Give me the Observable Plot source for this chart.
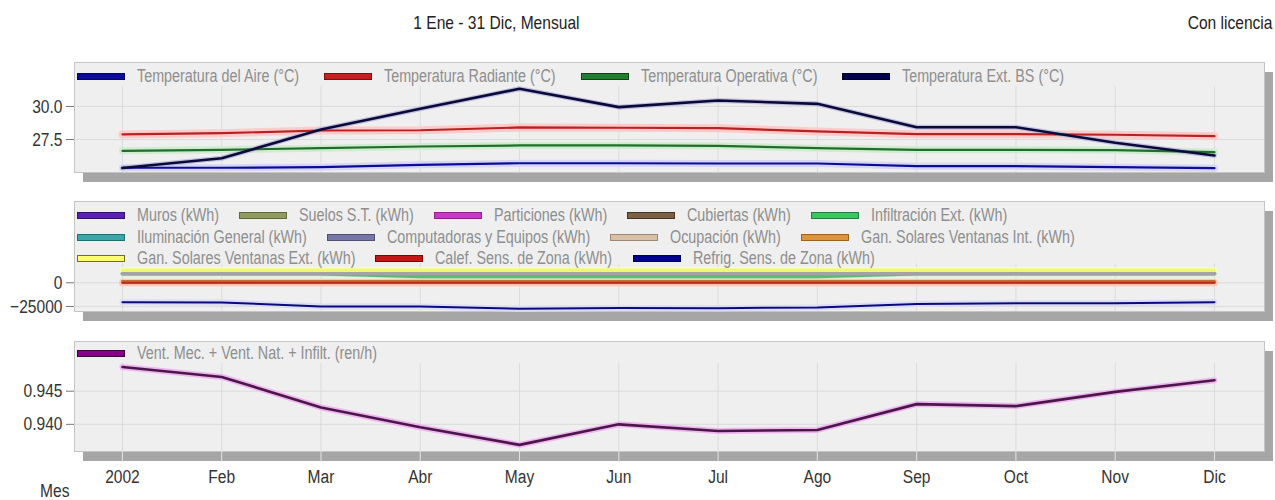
<!DOCTYPE html>
<html><head><meta charset="utf-8">
<script src="https://cdn.jsdelivr.net/npm/d3@7"></script>
<script src="https://cdn.jsdelivr.net/npm/@observablehq/plot@0.6"></script>
<style>
body{margin:0;background:#fff;font-family:"Liberation Sans",Arial,sans-serif;}
#root{position:relative;width:1275px;height:500px;overflow:hidden;background:#fff}
.abs{position:absolute;white-space:nowrap}
.shadow{position:absolute;background:#a6a6a6;}
.plotbox{position:absolute;left:0}
.legend{position:absolute;left:77px;font-size:17.5px;color:#8e8e8e;white-space:nowrap}
.row{display:flex;align-items:center;height:21.6px}
.item{display:flex;align-items:center}
.sw{width:46px;height:5px;border:1px solid;margin-right:12px;flex:none}
.nt{display:inline-block;transform:scaleX(0.82);transform-origin:0 50%}
</style></head><body><div id="root"></div>
<script>
// ---- data ----
const months = ["2002","Feb","Mar","Abr","May","Jun","Jul","Ago","Sep","Oct","Nov","Dic"];

// Panel 1 (°C)
const tempAire = [25.36, 25.36, 25.40, 25.58, 25.70, 25.70, 25.68, 25.68, 25.48, 25.48, 25.40, 25.33];
const tempRadiante = [27.88, 27.98, 28.18, 28.20, 28.41, 28.39, 28.36, 28.11, 27.90, 27.90, 27.86, 27.75];
const tempOperativa = [26.64, 26.72, 26.84, 26.97, 27.05, 27.05, 27.02, 26.84, 26.72, 26.72, 26.70, 26.54];
const tempExtBS = [25.34, 26.08, 28.26, 29.83, 31.34, 29.95, 30.45, 30.20, 28.43, 28.43, 27.25, 26.29];
const ticks1 = [27.5, 30.0];

// Panel 2 (kWh)
const muros = [600, 600, 650, 700, 700, 700, 700, 700, 650, 650, 600, 600];
const suelos = [-200, -200, -200, -250, -250, -250, -250, -250, -200, -200, -200, -200];
const particiones = [300, 300, 300, 300, 300, 300, 300, 300, 300, 300, 300, 300];
const cubiertas = [900, 900, 950, 1000, 1000, 1000, 1000, 1000, 950, 950, 900, 900];
const infiltracion = [9600, 9600, 9600, 6700, 6700, 6700, 6700, 6700, 9600, 9600, 9600, 9600];
const iluminacion = [9700, 9700, 9700, 9700, 9700, 9700, 9700, 9700, 9700, 9700, 9700, 9700];
const computadoras = [9800, 9800, 9800, 9800, 9800, 9800, 9800, 9800, 9800, 9800, 9800, 9800];
const ocupacion = [1200, 1200, 1200, 1200, 1200, 1200, 1200, 1200, 1200, 1200, 1200, 1200];
const ganSolInt = [1500, 1500, 1500, 1500, 1500, 1500, 1500, 1500, 1500, 1500, 1500, 1500];
const ganSolExt = [13300, 13300, 13300, 13300, 13300, 13300, 13300, 13300, 13300, 13300, 13300, 13300];
const calef = [0, 0, 0, 0, 0, 0, 0, 0, 0, 0, 0, 0];
const refrig = [-20500, -20800, -25000, -25000, -27400, -26600, -26800, -26000, -22400, -21500, -21500, -20500];
const ticks2 = [-25000, 0];

// Panel 3 (ren/h)
const ventilacion = [0.94865, 0.94715, 0.94255, 0.93955, 0.9369, 0.9400, 0.9390, 0.93915, 0.94305, 0.94275, 0.9449, 0.94665];
const ticks3 = [0.940, 0.945];

// ---- styles (not data) ----
const idx = months.map((_, i) => i);
const xDomain = [-0.483, 11.504];
const FONT = '"Liberation Sans", Arial, sans-serif';
const NARROW = 0.82;

const panels = [
  {
    top: 52, mt: 10, mb: 19, domain: [25.0, 33.33], ticks: ticks1, fmt: d3.format(".1f"), gridTop: 31.5, xAxis: false,
    legendTop: 65.7, gap: 25,
    legendRows: [[0,1,2,3]],
    series: [
      {name: "Temperatura del Aire (°C)", v: tempAire, c: "#0b0b9c", h: "#d6d6f4", sw: "#0b0b9c", sb: "#050560", w: 2.2, hw: 7},
      {name: "Temperatura Radiante (°C)", v: tempRadiante, c: "#b82222", h: "#ffcaca", sw: "#c42020", sb: "#801010", w: 2.2, hw: 8},
      {name: "Temperatura Operativa (°C)", v: tempOperativa, c: "#1f6e2a", h: "#d0ecd0", sw: "#208030", sb: "#104018", w: 2.2, hw: 7},
      {name: "Temperatura Ext. BS (°C)", v: tempExtBS, c: "#0a0a38", h: "#c0c0e0", sw: "#000050", sb: "#000020", w: 2.6, hw: 5}
    ]
  },
  {
    top: 191, mt: 10, mb: 19, domain: [-30300, 85800], ticks: ticks2, fmt: d => d3.format("d")(d), gridTop: 20000, xAxis: false,
    legendTop: 204.9, gap: 20,
    legendRows: [[0,1,2,3,4],[5,6,7,8],[9,10,11]],
    series: [
      {name: "Muros (kWh)", v: muros, c: "#5a20b8", h: "#e0d8f4", sw: "#5a20b8", sb: "#301070", w: 2, hw: 5},
      {name: "Suelos S.T. (kWh)", v: suelos, c: "#8f9a5c", h: "#e4e8d8", sw: "#8f9a5c", sb: "#5f6a3c", w: 2, hw: 5},
      {name: "Particiones (kWh)", v: particiones, c: "#c838c8", h: "#f4d8f4", sw: "#c838c8", sb: "#902090", w: 2, hw: 5},
      {name: "Cubiertas (kWh)", v: cubiertas, c: "#7a6045", h: "#e8dcd0", sw: "#7a6045", sb: "#4a3020", w: 2, hw: 5},
      {name: "Infiltración Ext. (kWh)", v: infiltracion, c: "#5cba72", h: "#c8ecd0", sw: "#38c860", sb: "#208040", w: 3.5, hw: 5},
      {name: "Iluminación General (kWh)", v: iluminacion, c: "#3aa8a8", h: "#d0ecec", sw: "#3aa8a8", sb: "#207070", w: 2, hw: 4},
      {name: "Computadoras y Equipos (kWh)", v: computadoras, c: "#a2a2a8", h: "#c8c8cc", sw: "#7878a8", sb: "#505078", w: 3.5, hw: 4},
      {name: "Ocupación (kWh)", v: ocupacion, c: "#d8c0a8", h: "#f0e4d8", sw: "#d8c0a8", sb: "#a08870", w: 2, hw: 5},
      {name: "Gan. Solares Ventanas Int. (kWh)", v: ganSolInt, c: "#c07030", h: "#f4d0b0", sw: "#e09438", sb: "#a06020", w: 2.5, hw: 5},
      {name: "Gan. Solares Ventanas Ext. (kWh)", v: ganSolExt, c: "#eef870", h: "#f8ffc0", sw: "#ffff70", sb: "#707020", w: 3.5, hw: 6},
      {name: "Calef. Sens. de Zona (kWh)", v: calef, c: "#b83018", h: "#ffc4b4", sw: "#c01818", sb: "#800000", w: 2, hw: 7},
      {name: "Refrig. Sens. de Zona (kWh)", v: refrig, c: "#0a0a80", h: "#dcdcf4", sw: "#000090", sb: "#000050", w: 2, hw: 6}
    ]
  },
  {
    top: 330, mt: 11, mb: 49, domain: [0.9359, 0.9525], ticks: ticks3, fmt: d3.format(".3f"), gridTop: 0.9492, xAxis: true,
    legendTop: 343.2, gap: 20,
    legendRows: [[0]],
    series: [
      {name: "Vent. Mec. + Vent. Nat. + Infilt. (ren/h)", v: ventilacion, c: "#4a1848", h: "#f0b4f0", sw: "#880088", sb: "#400040", w: 2.6, hw: 6}
    ]
  }
];

const root = document.getElementById("root");

function addDiv(cls, styles, text) {
  const d = document.createElement("div");
  d.className = cls;
  Object.assign(d.style, styles);
  if (text != null) d.textContent = text;
  root.appendChild(d);
  return d;
}
function narrowSpan(text, origin) {
  const s = document.createElement("span");
  s.className = "nt";
  s.textContent = text;
  if (origin) s.style.transformOrigin = origin;
  return s;
}
function collapse(s, extra) {
  const w = s.offsetWidth;
  s.style.marginRight = (extra - w * (1 - NARROW)) + "px";
}
function num(v) { const n = parseFloat(v); return isFinite(n) ? n : 0; }

// Title
const t1 = addDiv("abs", {left: "395px", top: "11px", fontSize: "19px", color: "#222", lineHeight: "24px", width: "200px", textAlign: "center"});
t1.appendChild(narrowSpan("1 Ene - 31 Dic, Mensual", "50% 50%"));
const t2 = addDiv("abs", {right: "3px", top: "11px", fontSize: "19px", color: "#222", lineHeight: "24px", textAlign: "right"});
t2.appendChild(narrowSpan("Con licencia", "100% 50%"));

for (const p of panels) {
  const innerH = 110;
  const H = p.mt + innerH + p.mb;
  addDiv("shadow", {left: (74 + 9) + "px", top: (p.top + p.mt + 10) + "px", width: (1264 - 74) + "px", height: innerH + "px"});

  const marks = [
    Plot.frame({fill: "#efefef", stroke: "#c4c4c4"}),
    Plot.ruleY(p.ticks, {stroke: "#dbdbdb"}),
    Plot.ruleX(idx, {y1: p.domain[0], y2: p.gridTop, stroke: "#dbdbdb"})
  ];
  for (const s of p.series) {
    marks.push(Plot.line(s.v, {x: (d, i) => i, y: d => d, stroke: s.h, strokeWidth: s.hw, strokeLinejoin: "round"}));
  }
  for (const s of p.series) {
    marks.push(Plot.line(s.v, {x: (d, i) => i, y: d => d, stroke: s.c, strokeWidth: s.w, strokeLinejoin: "round"}));
  }
  marks.push(Plot.axisY(p.ticks, {tickSize: 8, tickPadding: 4, tickFormat: p.fmt, fontSize: 19, stroke: "#777", fill: "#333"}));
  if (p.xAxis) {
    marks.push(Plot.axisX(idx, {tickSize: 11, tickPadding: 7, tickFormat: i => months[i], fontSize: 19, stroke: "#e4e4e4", fill: "#333"}));
  }

  const chart = Plot.plot({
    width: 1275,
    height: H,
    marginLeft: 74,
    marginRight: 11,
    marginTop: p.mt,
    marginBottom: p.mb,
    style: {background: "transparent", fontFamily: FONT, fontSize: "19px", color: "#333"},
    x: {domain: xDomain, axis: null},
    y: {domain: p.domain, axis: null},
    marks
  });
  // condense the tick label glyphs horizontally around their own anchor
  chart.querySelectorAll("text").forEach(t => {
    const x = num(t.getAttribute("x"));
    const tr = t.getAttribute("transform") || "";
    t.setAttribute("transform", `${tr} translate(${x},0) scale(${NARROW},1) translate(${-x},0)`.trim());
  });
  const box = addDiv("plotbox", {top: p.top + "px"});
  box.appendChild(chart);

  const lg = addDiv("legend", {top: p.legendTop + "px"});
  for (const row of p.legendRows) {
    const r = document.createElement("div");
    r.className = "row";
    for (const k of row) {
      const s = p.series[k];
      const it = document.createElement("div");
      it.className = "item";
      const sw = document.createElement("span");
      sw.className = "sw";
      sw.style.background = s.sw;
      sw.style.borderColor = s.sb;
      it.appendChild(sw);
      it.appendChild(narrowSpan(s.name));
      r.appendChild(it);
    }
    lg.appendChild(r);
  }
  lg.querySelectorAll(".nt").forEach(s => collapse(s, p.gap));
}

const mes = addDiv("abs", {left: "40px", top: "481px", fontSize: "19px", lineHeight: "19px", color: "#333"});
mes.appendChild(narrowSpan("Mes"));
</script>
</body></html>
